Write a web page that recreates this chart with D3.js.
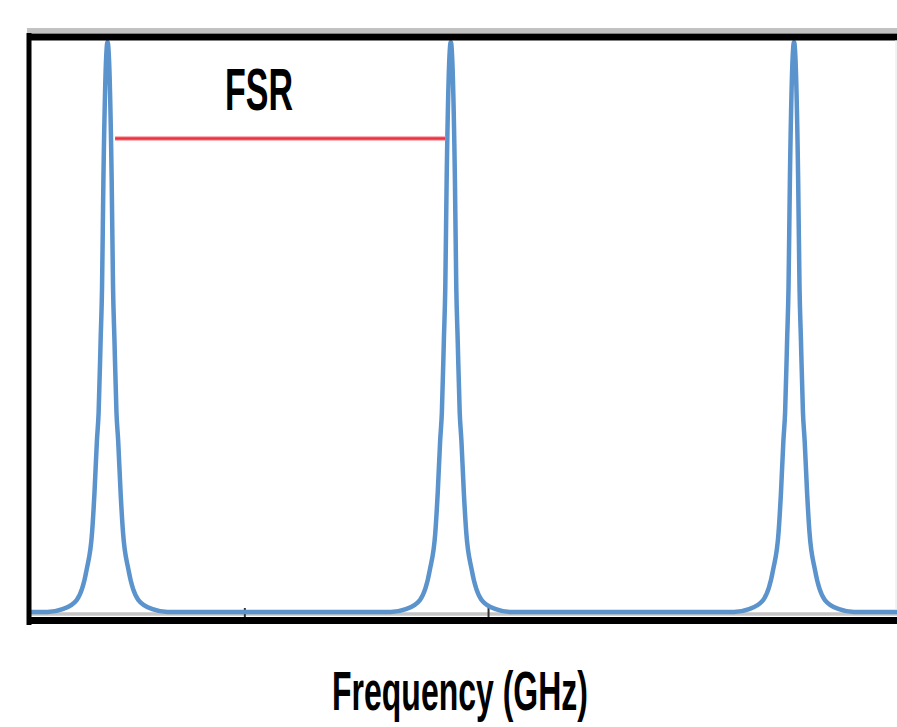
<!DOCTYPE html>
<html>
<head>
<meta charset="utf-8">
<script src="https://cdn.jsdelivr.net/npm/d3@7"></script>
<style>
  body { margin: 0; background: #fff; }
  svg { display: block; }
</style>
</head>
<body>
<script>
const width = 897;
const height = 727;

// resonance positions (GHz) and one line shape
const peakCenters = [10, 20, 30];
const profileOffset = [0, 0.12, 0.16, 0.20, 0.26, 0.31, 0.38, 0.45, 0.61, 0.90, 1.31, 1.75, 5.0];
const profileValue  = [1, 0.76, 0.57, 0.48, 0.35, 0.30, 0.21, 0.14, 0.074, 0.021, 0.005, 0, 0];
const tickValues = [14.0, 21.1];
const fsrRange = [10.22, 19.84];

const x = d3.scaleLinear().domain([7.77, 33.0]).range([31, 897]);
const y = d3.scaleLinear().domain([0, 1]).range([612, 42]);

// build the spectrum: mirrored profile around each peak
const points = [];
peakCenters.forEach(c => {
  for (let i = profileOffset.length - 1; i > 0; i--) points.push([c - profileOffset[i], profileValue[i]]);
  for (let i = 0; i < profileOffset.length; i++) points.push([c + profileOffset[i], profileValue[i]]);
});
const spectrum = points.sort((a, b) => a[0] - b[0]);

const svg = d3.select("body").append("svg")
  .attr("width", width)
  .attr("height", height);

svg.append("clipPath")
  .attr("id", "plot")
  .append("rect")
  .attr("x", 31).attr("y", 30).attr("width", width - 31).attr("height", 590);

// gray axis line under the curve
svg.append("line")
  .attr("x1", 31).attr("x2", width)
  .attr("y1", 614).attr("y2", 614)
  .attr("stroke", "#c4c4c4")
  .attr("stroke-width", 3.5);

svg.append("g")
  .selectAll("line")
  .data(tickValues)
  .join("line")
    .attr("x1", d => x(d)).attr("x2", d => x(d))
    .attr("y1", 608).attr("y2", 617)
    .attr("stroke", "#333")
    .attr("stroke-width", 2);

const line = d3.line()
  .x(d => x(d[0]))
  .y(d => y(d[1]))
  .curve(d3.curveMonotoneX);

svg.append("path")
  .datum(spectrum)
  .attr("clip-path", "url(#plot)")
  .attr("fill", "none")
  .attr("stroke", "#5b93cc")
  .attr("stroke-width", 4.5)
  .attr("stroke-linejoin", "round")
  .attr("d", line);

// frame: left, top, bottom black; faint right edge
svg.append("line")
  .attr("x1", 29).attr("x2", 29).attr("y1", 33).attr("y2", 625)
  .attr("stroke", "#000").attr("stroke-width", 5);
svg.append("rect")
  .attr("x", 27).attr("y", 28).attr("width", width - 27).attr("height", 5)
  .attr("fill", "#9a9a9a").attr("opacity", 0.6);
svg.append("line")
  .attr("x1", 27).attr("x2", width).attr("y1", 37).attr("y2", 37)
  .attr("stroke", "#000").attr("stroke-width", 7);
svg.append("line")
  .attr("x1", 27).attr("x2", width).attr("y1", 620.5).attr("y2", 620.5)
  .attr("stroke", "#000").attr("stroke-width", 7);
svg.append("line")
  .attr("x1", 896).attr("x2", 896).attr("y1", 40).attr("y2", 610)
  .attr("stroke", "#e6e6e6").attr("stroke-width", 1);

// FSR marker
svg.append("line")
  .attr("x1", x(fsrRange[0])).attr("x2", x(fsrRange[1]))
  .attr("y1", 138.5).attr("y2", 138.5)
  .attr("stroke", "#f7b3b8").attr("stroke-width", 5);
svg.append("line")
  .attr("x1", x(fsrRange[0])).attr("x2", x(fsrRange[1]))
  .attr("y1", 138.5).attr("y2", 138.5)
  .attr("stroke", "#e8323f").attr("stroke-width", 2.5);

svg.append("text")
  .attr("transform", "translate(259,110) scale(1,1.75)")
  .attr("text-anchor", "middle")
  .style("font-family", "'Liberation Sans', Arial, sans-serif")
  .style("font-weight", "bold")
  .style("font-size", "34px")
  .attr("fill", "#000")
  .text("FSR");

svg.append("text")
  .attr("transform", "translate(460,710) scale(1,1.76)")
  .attr("text-anchor", "middle")
  .style("font-family", "'Liberation Sans', Arial, sans-serif")
  .style("font-weight", "bold")
  .style("font-size", "32px")
  .attr("fill", "#000")
  .text("Frequency (GHz)");
</script>
</body>
</html>
